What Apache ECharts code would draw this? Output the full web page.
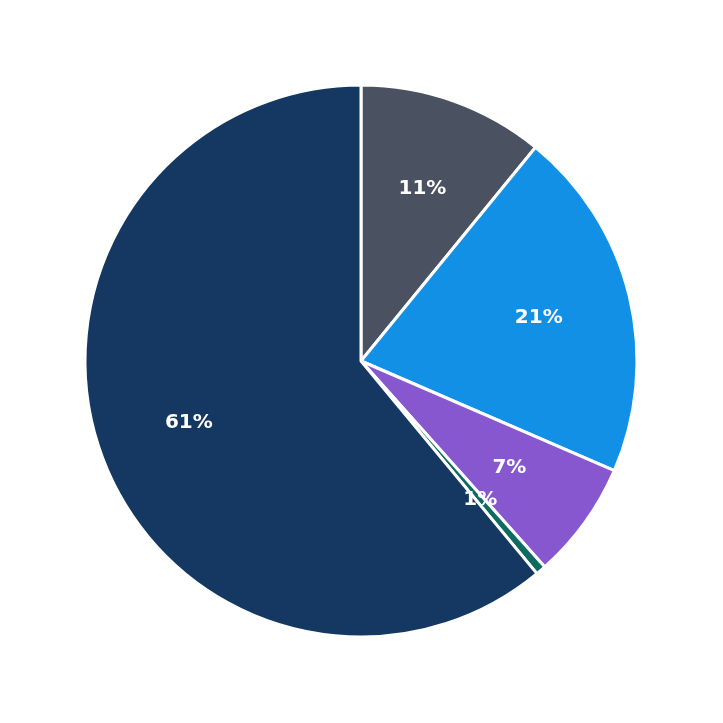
<!DOCTYPE html>
<html><head><meta charset="utf-8">
<script src="https://cdn.jsdelivr.net/npm/echarts@6/dist/echarts.min.js"></script>
<style>html,body{margin:0;padding:0;background:#fff}#c{width:723px;height:723px}</style>
</head><body><div id="c"></div>
<script>
const categories = ['A','B','C','D','E'];
const values = [10.9, 20.6, 6.9, 0.6, 61.0];
const labels = ['11%','21%','7%','1%','61%'];
const colors = ['#4a5261','#1290e6','#8757cf','#0e6b5f','#143861'];
const chart = echarts.init(document.getElementById('c'));
const data = categories.map((c,i)=>({name:c,value:values[i],itemStyle:{color:colors[i]}}));
chart.setOption({
  animation:false,
  series:[
    {type:'pie',center:[361,361],radius:[0,276],startAngle:90,clockwise:true,
     itemStyle:{borderColor:'#fff',borderWidth:3},label:{show:false},labelLine:{show:false},
     silent:true,data:data},
    {type:'pie',center:[361,361],radius:[84,276],startAngle:90,clockwise:true,
     itemStyle:{color:'transparent',borderWidth:0},labelLine:{show:false},silent:true,
     label:{show:true,position:'inside',color:'#fff',fontSize:20,fontWeight:'bold',fontFamily:'DejaVu Sans',
       formatter:p=>labels[p.dataIndex]},
     data:categories.map((c,i)=>({name:c,value:values[i]}))}
  ]
});
</script></body></html>
